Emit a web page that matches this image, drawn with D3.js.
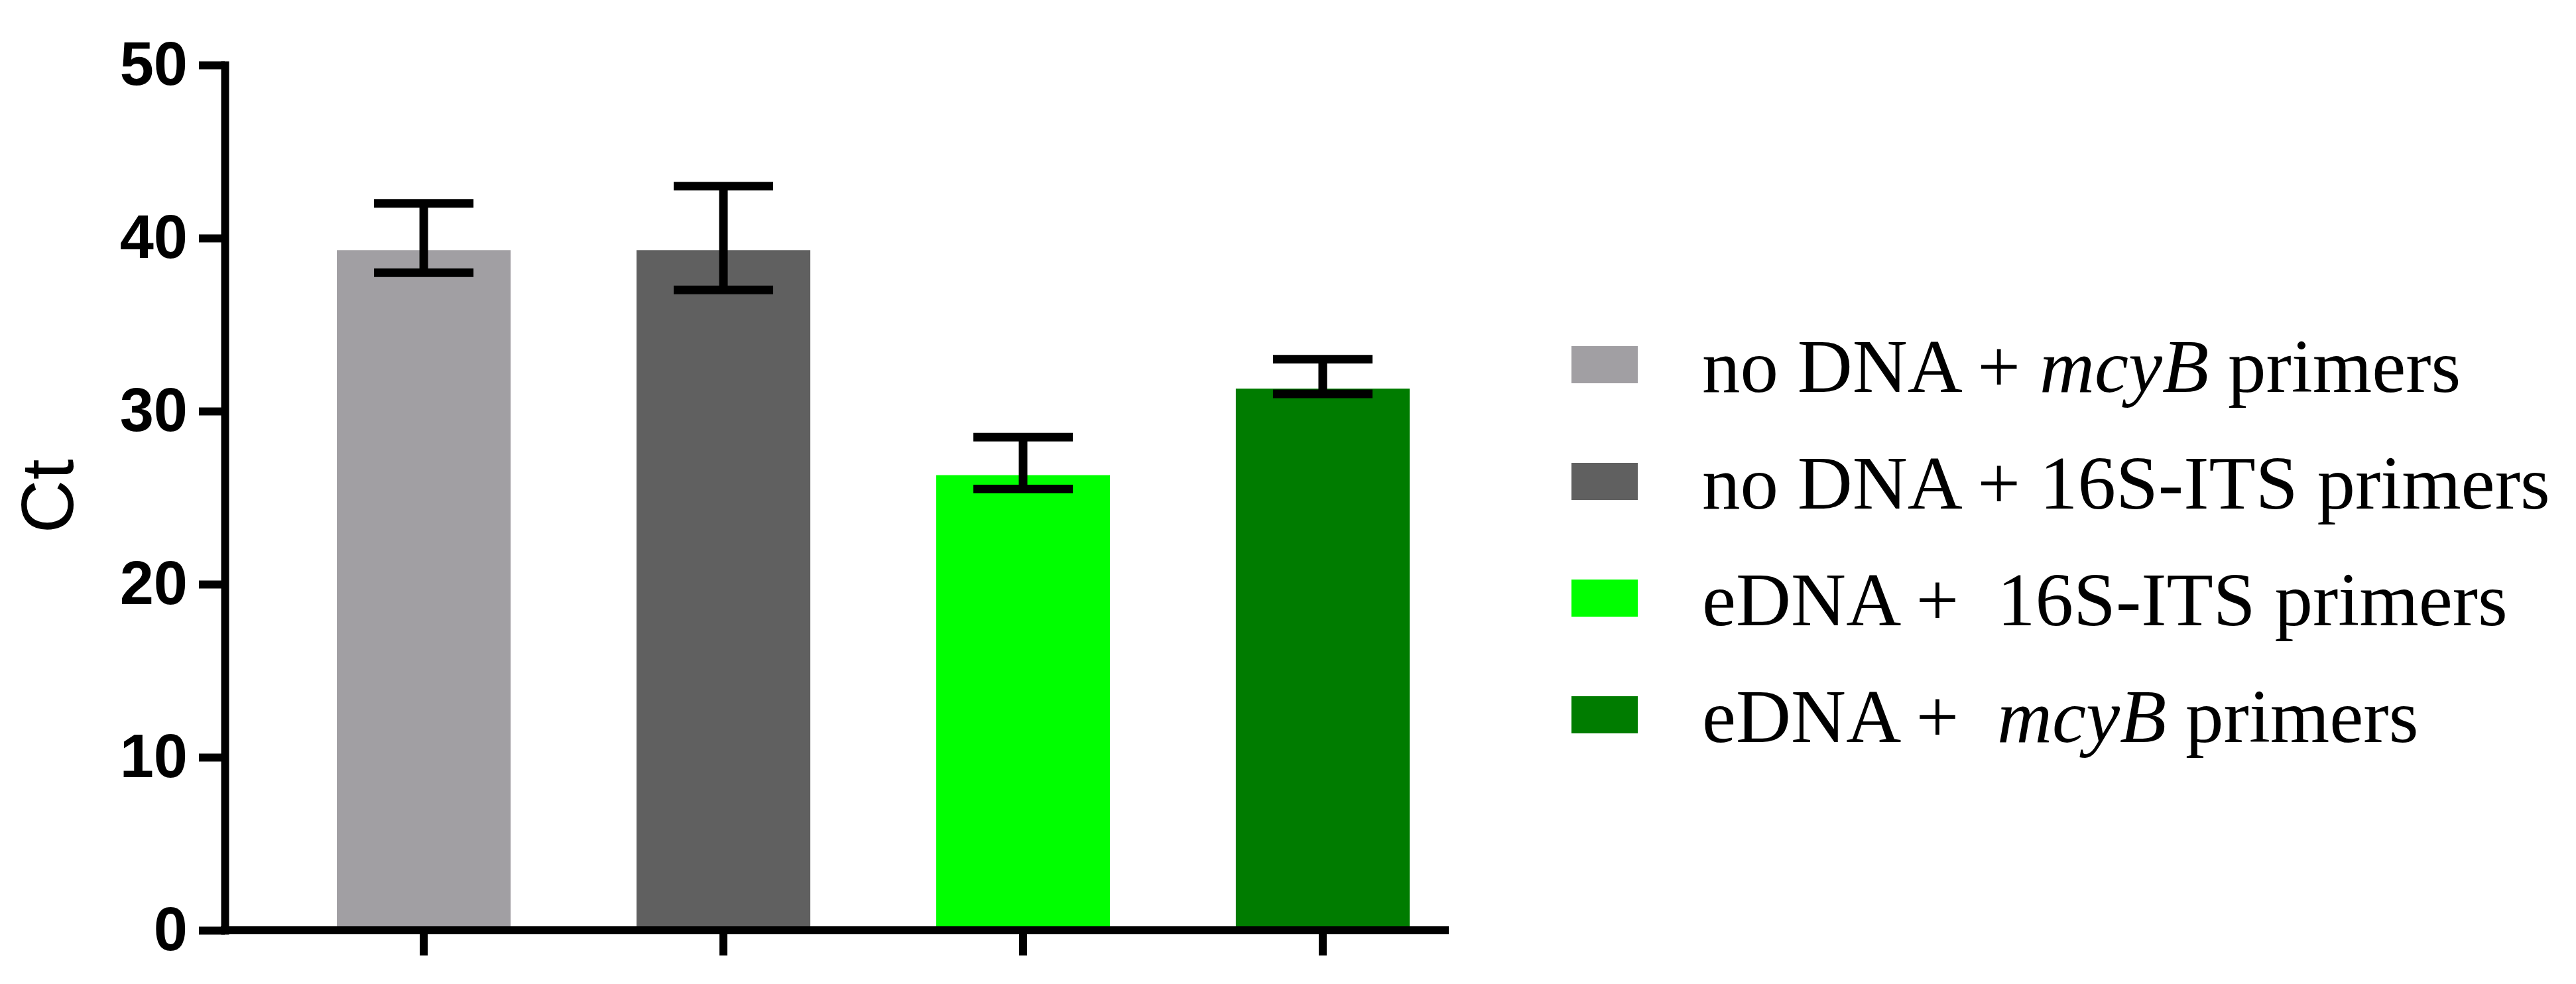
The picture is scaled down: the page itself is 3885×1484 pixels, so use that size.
<!DOCTYPE html>
<html>
<head>
<meta charset="utf-8">
<script src="https://cdn.jsdelivr.net/npm/d3@7"></script>
<style>
  body { margin: 0; background: #fff; }
  svg { display: block; }
</style>
</head>
<body>
<div id="chart"></div>
<script>
// data
var groups = ["noDNA_mcyB", "noDNA_16S", "eDNA_16S", "eDNA_mcyB"];
var means = [39.3, 39.3, 26.3, 31.3];
var errLow = [38.0, 37.0, 25.5, 31.0];
var errHigh = [42.0, 43.0, 28.5, 33.0];
var barColors = ["#a19fa3", "#606060", "#00ff00", "#007c00"];
var yTicks = [0, 10, 20, 30, 40, 50];
var yLabel = "Ct";
// legend text, [text, italic]
var legendLabels = [
    [["no DNA + ", false], ["mcyB", true], [" primers", false]],
    [["no DNA + 16S-ITS primers", false]],
    [["eDNA +  16S-ITS primers", false]],
    [["eDNA +  ", false], ["mcyB", true], [" primers", false]]
];

var W = 3885, H = 1484;
var axisX = 339, axisY = 1403;

var svg = d3.select("#chart").append("svg")
    .attr("width", W)
    .attr("height", H)
    .style("background", "#fff");

var yScale = d3.scaleLinear().domain([0, 50]).range([axisY, 98]);
var xScale = d3.scaleBand()
    .domain(groups)
    .range([axisX, 2295])
    .paddingInner(0.42)
    .paddingOuter(0.374);

var data = groups.map(function(g, i) {
    return {key: g, mean: means[i], lo: errLow[i], hi: errHigh[i], color: barColors[i]};
});

// bars
svg.append("g").selectAll("rect")
    .data(data)
    .enter().append("rect")
    .attr("x", function(d) { return xScale(d.key); })
    .attr("y", function(d) { return yScale(d.mean); })
    .attr("width", xScale.bandwidth())
    .attr("height", function(d) { return yScale(0) - yScale(d.mean); })
    .attr("fill", function(d) { return d.color; });

// error bars
var capW = 150;
var err = svg.append("g").attr("stroke", "#000").attr("stroke-width", 13);
data.forEach(function(d) {
    var cx = xScale(d.key) + xScale.bandwidth() / 2;
    err.append("line")
        .attr("x1", cx).attr("x2", cx)
        .attr("y1", yScale(d.hi)).attr("y2", yScale(d.lo));
    [d.hi, d.lo].forEach(function(v) {
        err.append("line")
            .attr("x1", cx - capW / 2).attr("x2", cx + capW / 2)
            .attr("y1", yScale(v)).attr("y2", yScale(v));
    });
});

// y axis
var yAxis = svg.append("g")
    .attr("transform", "translate(" + axisX + ",0)")
    .call(d3.axisLeft(yScale).tickValues(yTicks).tickSize(39).tickSizeOuter(0).tickPadding(17));
yAxis.select(".domain").attr("stroke-width", 12).attr("stroke-linecap", "square");
yAxis.selectAll(".tick line").attr("stroke-width", 12);
yAxis.selectAll(".tick text")
    .attr("fill", "#000")
    .style("font-family", "'Liberation Sans', Arial, sans-serif")
    .style("font-weight", "bold")
    .style("font-size", "92px");

// x axis
var xAxis = svg.append("g")
    .attr("transform", "translate(0," + axisY + ")")
    .call(d3.axisBottom(xScale).tickSize(38).tickSizeOuter(0).tickFormat(""));
xAxis.select(".domain").remove();
xAxis.selectAll(".tick line").attr("stroke-width", 12);
svg.append("line")
    .attr("x1", axisX - 6).attr("x2", 2185)
    .attr("y1", axisY).attr("y2", axisY)
    .attr("stroke", "#000").attr("stroke-width", 12);

// y label
svg.append("text")
    .attr("transform", "translate(110," + ((yScale(0) + yScale(50)) / 2 - 2) + ") rotate(-90)")
    .attr("text-anchor", "middle")
    .style("font-family", "'Liberation Sans', Arial, sans-serif")
    .style("font-size", "112px")
    .text(yLabel);

// legend
var legend = svg.append("g");
var rowStep = 176, row0 = 550;
legendLabels.forEach(function(parts, i) {
    var cy = row0 + i * rowStep;
    legend.append("rect")
        .attr("x", 2370).attr("y", cy - 28)
        .attr("width", 100).attr("height", 56)
        .attr("fill", barColors[i]);
    var t = legend.append("text")
        .attr("x", 2567).attr("y", cy + 41)
        .style("font-family", "'Liberation Serif', 'Times New Roman', serif")
        .style("font-size", "115px")
        .style("white-space", "pre");
    parts.forEach(function(p) {
        t.append("tspan")
            .style("font-style", p[1] ? "italic" : "normal")
            .text(p[0]);
    });
});
</script>
</body>
</html>
